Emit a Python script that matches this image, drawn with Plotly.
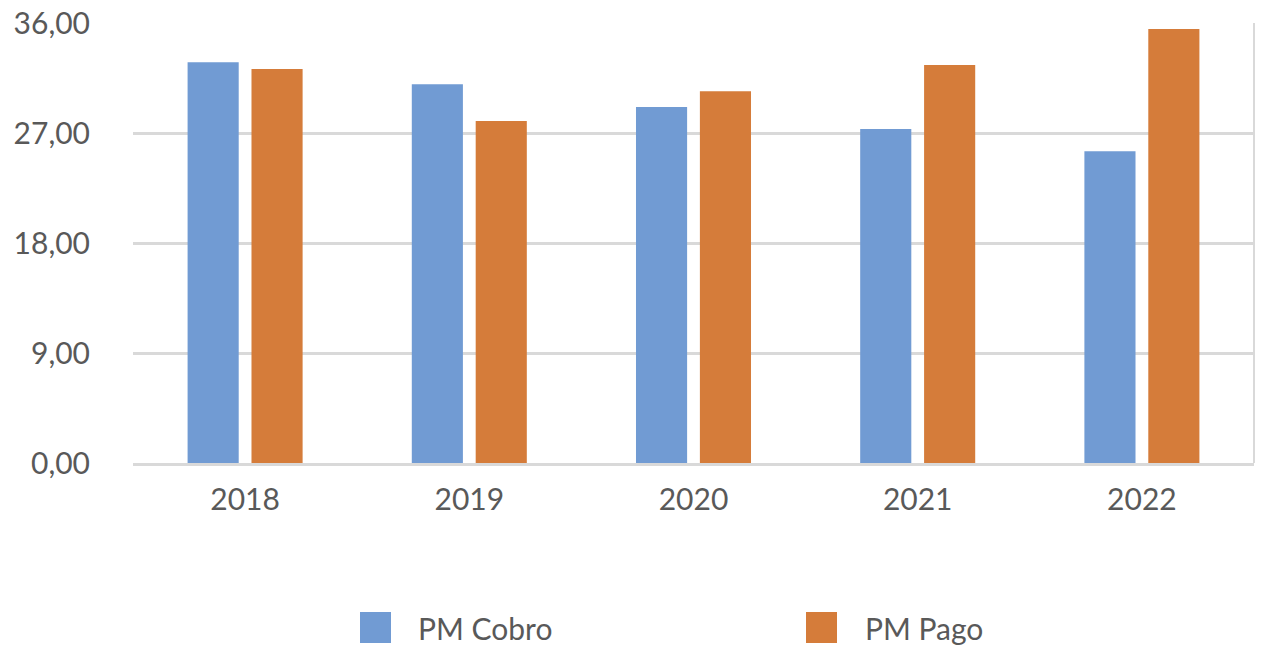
import plotly.graph_objects as go

years = ["2018", "2019", "2020", "2021", "2022"]
pm_cobro = [32.78, 30.98, 29.13, 27.33, 25.50]
pm_pago = [32.24, 27.98, 30.41, 32.56, 35.51]
y_ticks = [0, 9, 18, 27, 36]
series_names = ["PM Cobro", "PM Pago"]
colors = ["#719BD3", "#D57C3A"]

W, H = 1261, 646
L, R, T, B = 133, 7, 23, 183
FONT = "Lato"
TXT = "#595959"

fig = go.Figure()
fig.add_trace(go.Bar(x=years, y=pm_cobro, name=series_names[0], marker=dict(color=colors[0], line=dict(width=0))))
fig.add_trace(go.Bar(x=years, y=pm_pago, name=series_names[1], marker=dict(color=colors[1], line=dict(width=0))))

fig.update_layout(
    width=W, height=H,
    margin=dict(l=L, r=R, t=T, b=B, pad=0, autoexpand=False),
    paper_bgcolor="white", plot_bgcolor="white",
    barmode="group", bargap=0.43, bargroupgap=0.2,
    showlegend=False,
    separators=",.",
    font=dict(family=FONT, size=30, color=TXT),
)
fig.update_yaxes(
    range=[0, 36], tickvals=y_ticks, tickformat=".2f",
    showgrid=True, gridcolor="#D9D9D9", gridwidth=3,
    zeroline=False, showline=False, ticks="",
    ticklabelstandoff=42, fixedrange=True, automargin=False,
)
fig.update_xaxes(
    showgrid=False, showline=True, linecolor="#D9D9D9", linewidth=3,
    ticks="", ticklabelstandoff=8, fixedrange=True, automargin=False,
)
# right border of plot area
fig.add_shape(type="line", xref="paper", yref="paper", x0=1, x1=1, y0=0, y1=1,
              line=dict(color="#D9D9D9", width=2))

# manual legend (large square swatches)
def px_x(px):
    return (px - L) / (W - L - R)

def px_y(py):
    return (H - B - py) / (H - T - B)

legend_items = [(360, 416), (806, 863)]
for (sx, tx), name, c in zip(legend_items, series_names, colors):
    fig.add_shape(type="rect", xref="paper", yref="paper",
                  x0=px_x(sx), x1=px_x(sx + 31), y0=px_y(612), y1=px_y(643),
                  fillcolor=c, line=dict(width=0))
    fig.add_annotation(xref="paper", yref="paper", x=px_x(tx), y=px_y(628),
                       text=name, showarrow=False, xanchor="left", yanchor="middle",
                       font=dict(family=FONT, size=30, color=TXT))

fig.write_html("out.html")
